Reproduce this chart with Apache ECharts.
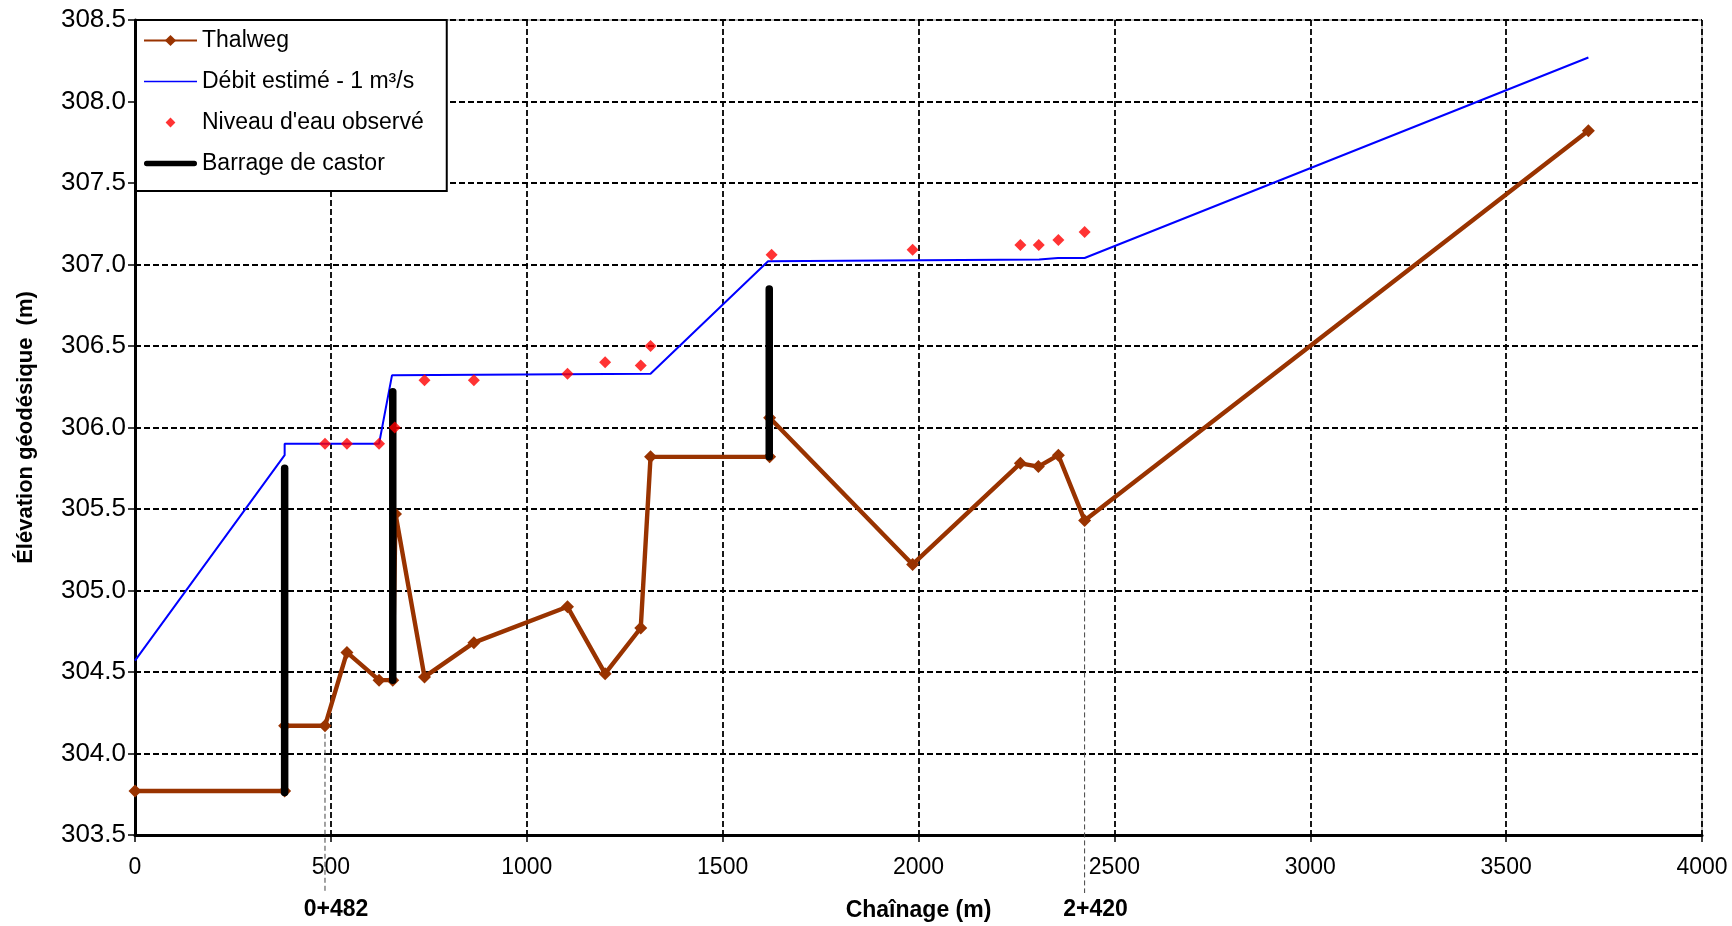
<!DOCTYPE html>
<html>
<head>
<meta charset="utf-8">
<title>Profil en long</title>
<script src="https://cdn.jsdelivr.net/npm/echarts@6/dist/echarts.min.js"></script>
<style>
  html, body { margin: 0; padding: 0; background: #fff; }
  #chart { width: 1732px; height: 926px; }
</style>
</head>
<body>
<div id="chart"></div>
<script>
// Thalweg (fond du cours d'eau)
const thalwegX = [0, 382, 382, 485, 541, 623, 658, 665, 739, 865, 1104, 1200, 1291, 1316, 1620, 1620, 1985, 2260, 2306, 2357, 2424, 3710];
const thalwegY = [303.77, 303.77, 304.17, 304.17, 304.62, 304.45, 304.45, 305.47, 304.47, 304.68, 304.90, 304.49, 304.77, 305.82, 305.82, 306.06, 305.16, 305.78, 305.76, 305.83, 305.43, 307.82];

// Ligne d'eau calculée, débit 1 m³/s
const debitX = [0, 382, 382, 623, 656, 1316, 1616, 2308, 2356, 2424, 3710];
const debitY = [304.57, 305.83, 305.90, 305.90, 306.32, 306.33, 307.02, 307.03, 307.04, 307.04, 308.27];

// Niveau d'eau observé
const niveauX = [485, 541, 623, 663, 739, 865, 1104, 1200, 1291, 1316, 1625, 1985, 2260, 2307, 2357, 2424];
const niveauY = [305.90, 305.90, 305.90, 306.00, 306.29, 306.29, 306.33, 306.40, 306.38, 306.50, 307.06, 307.09, 307.12, 307.12, 307.15, 307.20];

// Barrages de castor : position, base, sommet
const barrageX = [382, 658, 1619];
const barrageBas = [303.76, 304.45, 305.82];
const barrageHaut = [305.75, 306.22, 306.85];

// Repères de chaînage
const repereX = [485, 2424];
const repereY = [304.17, 305.43];
const repereLabels = ['0+482', '2+420'];

const yMin = 303.5, yMax = 308.5;
const xMin = 0, xMax = 4000;

const FONT = "'Liberation Sans', Arial, sans-serif";
const BROWN = '#993300';

const zip = (xs, ys) => xs.map((x, i) => [x, ys[i]]);

const chart = echarts.init(document.getElementById('chart'));

const barrageSeries = barrageX.map((x, i) => ({
  name: 'Barrage de castor',
  type: 'line',
  data: [[x, barrageBas[i]], [x, barrageHaut[i]]],
  symbol: 'none',
  z: 5,
  lineStyle: { color: '#000', width: 7.5, cap: 'round' },
  itemStyle: { color: '#000' }
}));

const gridLine = { show: true, lineStyle: { color: '#000', width: 1.8, type: [6, 3] } };

const option = {
  backgroundColor: '#fff',
  animation: false,
  textStyle: { fontFamily: FONT },
  grid: {
    left: 135, right: 30, top: 20, bottom: 91,
    show: true, borderColor: '#808080', borderWidth: 1,
    outerBoundsMode: 'none'
  },
  legend: {
    orient: 'vertical',
    left: 136, top: 20,
    padding: [9, 23, 16, 7],
    itemWidth: 53, itemHeight: 14, itemGap: 18,
    backgroundColor: '#fff',
    borderColor: '#000', borderWidth: 2,
    textStyle: { fontSize: 23, color: '#000', fontFamily: FONT },
    selectedMode: false,
    data: [
      { name: 'Thalweg' },
      { name: 'Débit estimé - 1 m³/s', icon: 'path://M0,0H100V3H0Z' },
      { name: "Niveau d'eau observé", icon: 'path://M0,0M20,20M10,3L17,10L10,17L3,10Z' },
      { name: 'Barrage de castor', icon: 'path://M5,0H95A5,5 0 0 1 95,10H5A5,5 0 0 1 5,0Z' }
    ]
  },
  xAxis: {
    type: 'value',
    min: xMin, max: xMax, interval: 500,
    name: 'Chaînage (m)',
    nameLocation: 'middle',
    nameGap: 64,
    nameTextStyle: { fontSize: 23, fontWeight: 'bold', color: '#000', fontFamily: FONT },
    axisLine: { show: true, onZero: false, lineStyle: { color: '#000', width: 3 } },
    axisTick: { show: true, length: 7, lineStyle: { color: '#000', width: 1.5 } },
    axisLabel: { fontSize: 23, color: '#000', margin: 21, fontFamily: FONT, formatter: v => String(v) },
    splitLine: gridLine
  },
  yAxis: {
    type: 'value',
    min: yMin, max: yMax, interval: 0.5,
    name: 'Élévation géodésique  (m)',
    nameLocation: 'middle',
    nameGap: 98,
    nameTextStyle: { fontSize: 22, fontWeight: 'bold', color: '#000', fontFamily: FONT },
    axisLine: { show: true, onZero: false, lineStyle: { color: '#000', width: 3 } },
    axisTick: { show: true, length: 7, lineStyle: { color: '#000', width: 1.5 } },
    axisLabel: {
      fontSize: 26, color: '#000', margin: 9, fontFamily: FONT,
      formatter: v => v.toFixed(1)
    },
    splitLine: gridLine
  },
  series: [
    {
      name: 'Repères',
      type: 'custom',
      clip: false,
      silent: true,
      z: 1,
      data: zip(repereX, repereY),
      renderItem: (params, api) => {
        const p = api.coord([api.value(0), api.value(1)]);
        const base = api.coord([api.value(0), yMin]);
        return {
          type: 'group',
          children: [
            {
              type: 'line',
              shape: { x1: p[0], y1: p[1], x2: p[0], y2: base[1] + 58 },
              style: { stroke: '#444', lineWidth: 1, lineDash: [5, 3] }
            },
            {
              type: 'text',
              x: p[0] + 11, y: base[1] + 75,
              style: {
                text: repereLabels[params.dataIndex],
                font: 'bold 23px ' + FONT,
                fill: '#000', align: 'center', verticalAlign: 'middle'
              }
            }
          ]
        };
      }
    },
    {
      name: 'Débit estimé - 1 m³/s',
      type: 'line',
      data: zip(debitX, debitY),
      symbol: 'none',
      z: 3,
      lineStyle: { color: '#0000FF', width: 2 },
      itemStyle: { color: '#0000FF' }
    },
    {
      name: 'Thalweg',
      type: 'line',
      data: zip(thalwegX, thalwegY),
      symbol: 'diamond',
      symbolSize: 13,
      z: 4,
      lineStyle: { color: BROWN, width: 4.4 },
      itemStyle: { color: BROWN }
    },
    ...barrageSeries,
    {
      name: "Niveau d'eau observé",
      type: 'scatter',
      data: zip(niveauX, niveauY),
      symbol: 'diamond',
      symbolSize: 12,
      z: 6,
      itemStyle: { color: '#FF0000' }
    }
  ]
};

chart.setOption(option);
</script>
</body>
</html>
